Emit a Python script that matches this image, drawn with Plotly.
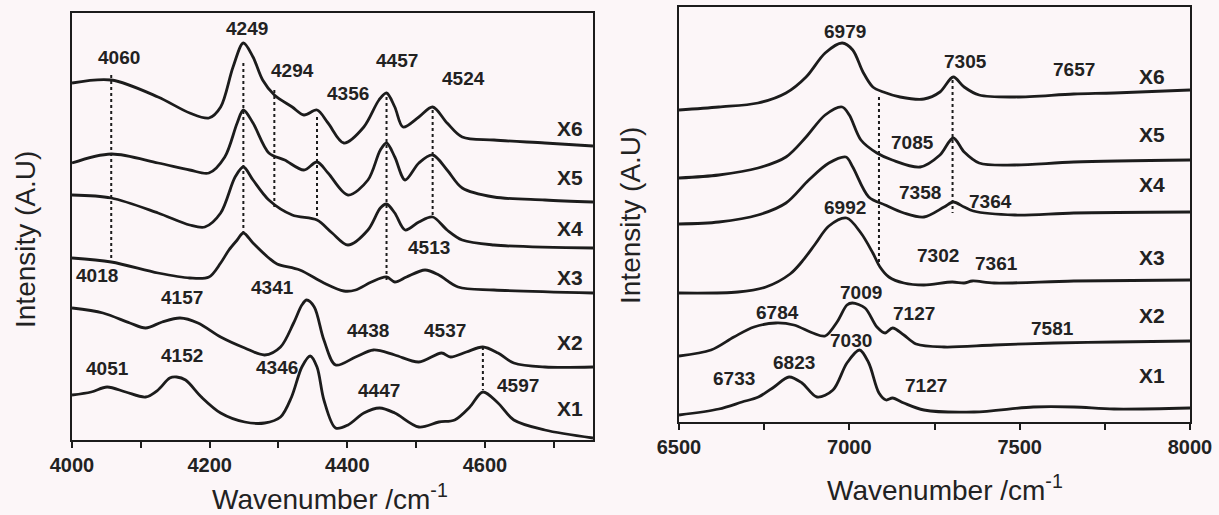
import plotly.graph_objects as go

# ---------------- data ----------------
# Left panel: wavenumber (cm-1) and intensity (A.U.)
X6_L_WN = [4000, 4057, 4125, 4171, 4199, 4216, 4234, 4249, 4263, 4277, 4294, 4320, 4337, 4356, 4372, 4395, 4424, 4446, 4457, 4469, 4481, 4504, 4524, 4545, 4567, 4613, 4687, 4757]
X6_L_I = [357, 360, 343, 327, 322, 333, 373, 397, 383, 360, 345, 333, 325, 330, 317, 297, 313, 340, 347, 333, 313, 323, 333, 317, 303, 300, 297, 294]

X5_L_WN = [4000, 4057, 4125, 4171, 4199, 4222, 4240, 4249, 4263, 4286, 4309, 4337, 4356, 4372, 4401, 4430, 4448, 4457, 4469, 4484, 4504, 4524, 4545, 4567, 4613, 4687, 4757]
X5_L_I = [277, 286, 277, 270, 267, 283, 317, 330, 317, 287, 280, 270, 278, 267, 245, 260, 290, 297, 283, 260, 277, 285, 270, 252, 243, 240, 238]

X4_L_WN = [4000, 4057, 4125, 4171, 4193, 4216, 4237, 4249, 4263, 4286, 4320, 4356, 4378, 4401, 4430, 4448, 4457, 4469, 4484, 4504, 4524, 4545, 4567, 4613, 4757]
X4_L_I = [245, 242, 227, 215, 213, 227, 263, 273, 260, 240, 225, 220, 207, 195, 210, 232, 236, 227, 210, 218, 223, 210, 200, 195, 192]

X3_L_WN = [4000, 4057, 4125, 4171, 4199, 4216, 4228, 4240, 4249, 4263, 4286, 4298, 4331, 4366, 4395, 4412, 4435, 4457, 4469, 4486, 4513, 4533, 4561, 4613, 4757]
X3_L_I = [182, 178, 167, 162, 163, 177, 190, 200, 207, 197, 182, 176, 170, 157, 149, 150, 158, 163, 158, 163, 170, 165, 153, 150, 147]

X2_L_WN = [4000, 4045, 4084, 4107, 4131, 4157, 4183, 4216, 4251, 4280, 4303, 4322, 4334, 4341, 4352, 4366, 4383, 4412, 4438, 4469, 4504, 4537, 4550, 4573, 4597, 4619, 4642, 4687, 4757]
X2_L_I = [132, 127, 117, 112, 118, 122, 117, 103, 92, 85, 93, 117, 135, 140, 133, 100, 75, 83, 90, 85, 78, 87, 83, 88, 93, 87, 77, 73, 73]

X1_L_WN = [4000, 4028, 4051, 4078, 4107, 4125, 4142, 4152, 4165, 4188, 4216, 4251, 4280, 4303, 4319, 4334, 4346, 4356, 4366, 4383, 4401, 4424, 4447, 4469, 4504, 4533, 4556, 4578, 4597, 4619, 4642, 4687, 4757]
X1_L_I = [45, 48, 53, 48, 43, 50, 62, 63, 60, 43, 27, 18, 17, 23, 43, 73, 84, 73, 40, 12, 15, 27, 32, 27, 13, 18, 20, 33, 48, 37, 20, 10, 2]

# Right panel
X6_R_WN = [6500, 6617, 6732, 6814, 6873, 6929, 6979, 7010, 7040, 7069, 7100, 7149, 7219, 7266, 7305, 7337, 7381, 7486, 7659, 7777, 8000]
X6_R_I = [312, 315, 319, 329, 345, 369, 379, 372, 350, 335, 330, 325, 323, 330, 345, 335, 327, 325, 328, 329, 332]

X5_R_WN = [6500, 6617, 6732, 6814, 6873, 6929, 6979, 7000, 7034, 7081, 7126, 7208, 7266, 7305, 7337, 7381, 7486, 7659, 8000]
X5_R_I = [244, 247, 254, 265, 285, 307, 315, 307, 282, 269, 262, 255, 267, 284, 270, 259, 257, 260, 262]

X4_R_WN = [6500, 6617, 6732, 6814, 6881, 6940, 6990, 7010, 7057, 7105, 7160, 7219, 7278, 7305, 7337, 7364, 7486, 7659, 8000]
X4_R_I = [198, 200, 207, 219, 242, 259, 265, 255, 225, 217, 209, 205, 215, 220, 215, 211, 207, 209, 210]

X3_R_WN = [6500, 6673, 6755, 6826, 6860, 6900, 6940, 6992, 7034, 7069, 7090, 7116, 7160, 7219, 7302, 7337, 7361, 7425, 7659, 8000]
X3_R_I = [129, 130, 135, 148, 160, 178, 196, 204, 189, 169, 155, 145, 139, 137, 140, 139, 141, 139, 141, 142]

X2_R_WN = [6500, 6594, 6661, 6720, 6784, 6837, 6893, 6929, 6964, 6993, 7009, 7046, 7081, 7105, 7127, 7160, 7196, 7278, 7425, 7601, 7777, 8000]
X2_R_I = [66, 72, 85, 95, 99, 97, 89, 86, 100, 117, 119, 114, 95, 89, 94, 87, 78, 75, 77, 79, 80, 81]

X1_R_WN = [6500, 6617, 6685, 6733, 6779, 6823, 6861, 6905, 6952, 6993, 7030, 7057, 7087, 7108, 7127, 7160, 7219, 7366, 7540, 7659, 7777, 8000]
X1_R_I = [7, 13, 20, 25, 35, 45, 39, 25, 32, 59, 72, 59, 29, 22, 24, 19, 12, 10, 15, 15, 13, 14]

SERIES_NAMES = ["X6", "X5", "X4", "X3", "X2", "X1"]

# dotted guide lines (wavenumber, top intensity, bottom intensity)
LEFT_GUIDE_WN = [4057, 4249, 4294, 4356, 4457, 4524, 4597]
LEFT_GUIDE_TOP = [365, 377, 350, 323, 343, 330, 93]
LEFT_GUIDE_BOT = [182, 207, 230, 220, 157, 223, 50]
RIGHT_GUIDE_WN = [7087, 7303]
RIGHT_GUIDE_TOP = [325, 342]
RIGHT_GUIDE_BOT = [160, 209]

# peak labels
LEFT_PEAKS = ["4060", "4249", "4294", "4356", "4457", "4524", "4513", "4018", "4157", "4341", "4438", "4537", "4051", "4152", "4346", "4447", "4597"]
LEFT_PEAK_X = [4068, 4254, 4320, 4401, 4472, 4569, 4519, 4036, 4160, 4292, 4430, 4542, 4051, 4160, 4298, 4446, 4648]
LEFT_PEAK_Y = [383, 412, 370, 347, 380, 362, 193, 165, 143, 153, 110, 110, 72, 85, 73, 50, 55]
LEFT_NAME_X = 4724
LEFT_NAME_Y = [312, 263, 212, 163, 98, 32]

RIGHT_PEAKS = ["6979", "7305", "7657", "7085", "7358", "7364", "6992", "7302", "7361", "7009", "6784", "7127", "7581", "7030", "6823", "6733", "7127"]
RIGHT_PEAK_X = [6987, 7342, 7659, 7184, 7207, 7415, 6987, 7260, 7433, 7034, 6790, 7190, 7596, 7004, 6837, 6662, 7225]
RIGHT_PEAK_Y = [390, 360, 352, 279, 229, 220, 214, 166, 159, 130, 110, 109, 94, 82, 60, 44, 37]
RIGHT_NAME_X = 7888
RIGHT_NAME_Y = [345, 287, 237, 165, 107, 47]

LEFT_TICKS = [4000, 4200, 4400, 4600]
RIGHT_TICKS = [6500, 7000, 7500, 8000]

# ---------------- figure ----------------
W, H = 1219, 515
BG = "#fcf6f8"
INK = "#1c1c1c"
FONT = "Liberation Sans, Arial, sans-serif"

fig = go.Figure()

left = [(X6_L_WN, X6_L_I), (X5_L_WN, X5_L_I), (X4_L_WN, X4_L_I), (X3_L_WN, X3_L_I), (X2_L_WN, X2_L_I), (X1_L_WN, X1_L_I)]
right = [(X6_R_WN, X6_R_I), (X5_R_WN, X5_R_I), (X4_R_WN, X4_R_I), (X3_R_WN, X3_R_I), (X2_R_WN, X2_R_I), (X1_R_WN, X1_R_I)]

for name, (wn, it) in zip(SERIES_NAMES, left):
    fig.add_trace(go.Scatter(x=wn, y=it, mode="lines", name=name, xaxis="x", yaxis="y",
                             line=dict(color=INK, width=2.8, shape="spline", smoothing=0.9),
                             showlegend=False, hoverinfo="skip"))
for name, (wn, it) in zip(SERIES_NAMES, right):
    fig.add_trace(go.Scatter(x=wn, y=it, mode="lines", name=name, xaxis="x2", yaxis="y2",
                             line=dict(color=INK, width=2.8, shape="spline", smoothing=0.9),
                             showlegend=False, hoverinfo="skip"))


def guide_xy(wns, tops, bots):
    gx, gy = [], []
    for w, t, b in zip(wns, tops, bots):
        gx += [w, w, None]
        gy += [t, b, None]
    return gx, gy


gx, gy = guide_xy(LEFT_GUIDE_WN, LEFT_GUIDE_TOP, LEFT_GUIDE_BOT)
fig.add_trace(go.Scatter(x=gx, y=gy, mode="lines", xaxis="x", yaxis="y",
                         line=dict(color=INK, width=2, dash="dot"), showlegend=False, hoverinfo="skip"))
gx, gy = guide_xy(RIGHT_GUIDE_WN, RIGHT_GUIDE_TOP, RIGHT_GUIDE_BOT)
fig.add_trace(go.Scatter(x=gx, y=gy, mode="lines", xaxis="x2", yaxis="y2",
                         line=dict(color=INK, width=2, dash="dot"), showlegend=False, hoverinfo="skip"))

annotations = []
lbl_font = dict(family=FONT, size=19, color="#222222", weight="bold")
name_font = dict(family=FONT, size=21, color="#222222", weight="bold")
for t, x, y in zip(LEFT_PEAKS, LEFT_PEAK_X, LEFT_PEAK_Y):
    annotations.append(dict(x=x, y=y, xref="x", yref="y", text=t, showarrow=False, font=lbl_font))
for t, y in zip(SERIES_NAMES, LEFT_NAME_Y):
    annotations.append(dict(x=LEFT_NAME_X, y=y, xref="x", yref="y", text=t, showarrow=False, font=name_font))
for t, x, y in zip(RIGHT_PEAKS, RIGHT_PEAK_X, RIGHT_PEAK_Y):
    annotations.append(dict(x=x, y=y, xref="x2", yref="y2", text=t, showarrow=False, font=lbl_font))
for t, y in zip(SERIES_NAMES, RIGHT_NAME_Y):
    annotations.append(dict(x=RIGHT_NAME_X, y=y, xref="x2", yref="y2", text=t, showarrow=False, font=name_font))

title_font = dict(family=FONT, size=28, color="#222222")
annotations += [
    dict(x=330 / W, y=1 - 497 / H, xref="paper", yref="paper", text="Wavenumber /cm<sup>-1</sup>",
         xanchor="center", yanchor="middle", showarrow=False, font=title_font),
    dict(x=945 / W, y=1 - 488 / H, xref="paper", yref="paper", text="Wavenumber /cm<sup>-1</sup>",
         xanchor="center", yanchor="middle", showarrow=False, font=title_font),
    dict(x=25 / W, y=1 - 240 / H, xref="paper", yref="paper", text="Intensity (A.U)", textangle=-90,
         xanchor="center", yanchor="middle", showarrow=False, font=title_font),
    dict(x=630 / W, y=1 - 216 / H, xref="paper", yref="paper", text="Intensity (A.U)", textangle=-90,
         xanchor="center", yanchor="middle", showarrow=False, font=title_font),
]

tick_font = dict(family=FONT, size=20, color="#222222", weight="bold")
axis_common = dict(showline=True, mirror=True, linecolor=INK, linewidth=2, showgrid=False,
                   zeroline=False, automargin=False)

fig.update_layout(
    width=W, height=H,
    margin=dict(l=0, r=0, t=0, b=0, pad=0),
    paper_bgcolor=BG, plot_bgcolor=BG,
    showlegend=False,
    xaxis=dict(domain=[72 / W, 593 / W], range=[4000, 4757], tickvals=LEFT_TICKS,
               ticks="outside", ticklen=6, tickwidth=2, tickcolor=INK, tickfont=tick_font,
               minor=dict(dtick=100, tick0=4000, ticks="outside", ticklen=6, tickwidth=2, tickcolor=INK),
               anchor="y", **axis_common),
    yaxis=dict(domain=[1 - 440 / H, 1 - 13 / H], range=[0, 427], showticklabels=False, ticks="",
               anchor="x", **axis_common),
    xaxis2=dict(domain=[679 / W, 1190 / W], range=[6500, 8000], tickvals=RIGHT_TICKS,
                ticks="outside", ticklen=6, tickwidth=2, tickcolor=INK, tickfont=tick_font,
                minor=dict(dtick=250, tick0=6500, ticks="outside", ticklen=6, tickwidth=2, tickcolor=INK),
                anchor="y2", **axis_common),
    yaxis2=dict(domain=[1 - 422 / H, 1 - 7 / H], range=[0, 415], showticklabels=False, ticks="",
                anchor="x2", **axis_common),
    annotations=annotations,
)

fig.write_html("out.html", config={"displayModeBar": False},
               post_script="document.body.style.margin='0';document.body.style.overflow='hidden';")
